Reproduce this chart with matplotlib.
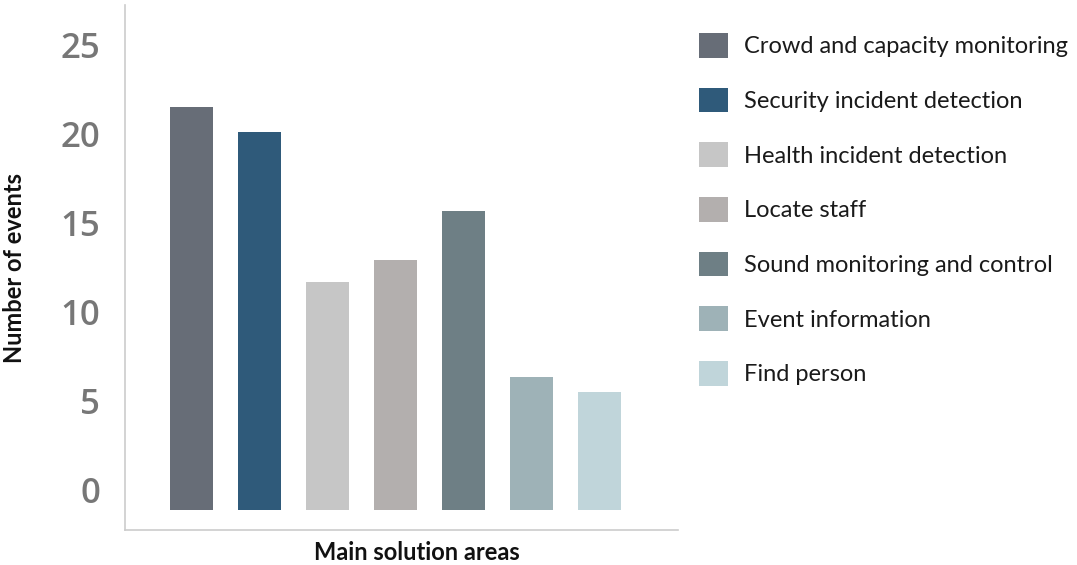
import matplotlib
matplotlib.use("Agg")
import matplotlib.pyplot as plt
from matplotlib.patches import Patch
import numpy as np

categories = ["Crowd and capacity monitoring", "Security incident detection",
              "Health incident detection", "Locate staff",
              "Sound monitoring and control", "Event information", "Find person"]
values = [21.5, 20.1, 11.7, 12.9, 15.7, 6.35, 5.5]
colors = ["#676d77", "#2f5a7a", "#c6c6c6", "#b3afae", "#6e7f85", "#9eb2b7", "#c0d5da"]
yticks = [0, 5, 10, 15, 20, 25]

BASE = -1.1  # bars in the source start slightly below the 0 label

fig = plt.figure(figsize=(10.77, 5.65), dpi=100)
ax = fig.add_axes([125/1077, 35/565, (678-125)/1077, (530-5)/565])

x = np.arange(len(categories))
ax.bar(x, [v - BASE for v in values], bottom=BASE, width=0.632, color=colors)

ax.set_xlim(-0.978, 7.15)
ax.set_ylim(-2.25, 27.25)
ax.set_yticks(yticks)
ax.set_yticklabels([str(t) for t in yticks], fontfamily="Open Sans",
                   fontweight="semibold", fontsize=25, color="#777777")
ax.tick_params(axis="y", length=0, pad=18)
ax.set_xticks([])
for s in ["top", "right"]:
    ax.spines[s].set_visible(False)
for s in ["left", "bottom"]:
    ax.spines[s].set_color("#cccccc")
    ax.spines[s].set_linewidth(1.2)

fig.text(15/1077, 1-268/565, "Number of events", rotation=90, ha="center", va="center",
         fontfamily="Lato", fontweight="bold", fontsize=17, color="#111111")
fig.text(417/1077, 1-552/565, "Main solution areas", ha="center", va="center",
         fontfamily="Lato", fontweight="bold", fontsize=17, color="#111111")

handles = [Patch(facecolor=c, edgecolor="none") for c in colors]
fig.legend(handles, categories, loc="upper left",
           bbox_to_anchor=(699/1077, 1-33/565), frameon=False,
           borderaxespad=0, borderpad=0, prop={"family": "Lato", "size": 17},
           handlelength=1.23, handleheight=1.23, labelspacing=1.27,
           handletextpad=0.68, labelcolor="#1a1a1a")

fig.savefig("out.png", dpi=100)
